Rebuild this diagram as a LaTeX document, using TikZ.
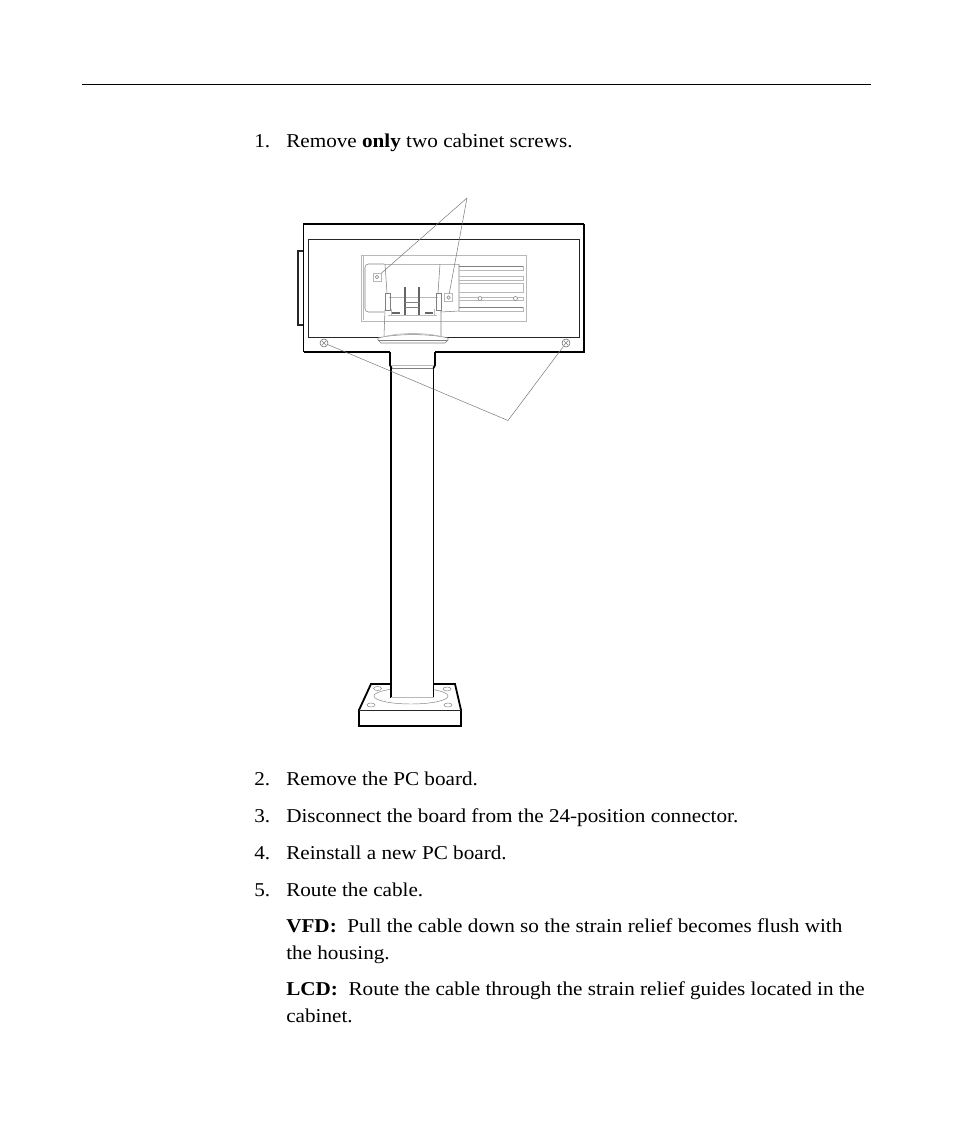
\documentclass[tikz,border=0pt]{standalone}
\usepackage{fontspec}
\setmainfont{Liberation Serif}[FakeStretch=1.08]
\tikzset{
  x=0.75pt,y=-0.75pt,
  txt/.style={anchor=base west,inner sep=0pt,font=\fontsize{14.7pt}{16pt}\selectfont},
  heavy/.style={draw=black,line width=1.35pt},
  med/.style={draw=black!85,line width=0.6pt},
  fine/.style={draw=black!50,line width=0.4pt},
  pale/.style={draw=black!28,line width=0.5pt},
  leader/.style={draw=black!55,line width=0.35pt},
  sqscrew/.style={draw=black!28,line width=0.4pt,fill=white,minimum size=6pt,inner sep=0pt,rectangle},
  rdscrew/.style={draw=black!60,line width=0.4pt,fill=white,minimum size=6pt,inner sep=0pt,circle},
  hole/.style={draw=black!50,line width=0.35pt},
}
\begin{document}
\begin{tikzpicture}
\useasboundingbox (0,0) rectangle (954,1145);
\fill[white] (0,0) rectangle (954,1145);
\draw[draw=black,line width=0.6pt] (82,84.5) -- (871,84.5);

% text
\node[txt] (n1) at (254,147) {1.};
\node[txt] (t1) at (286,147) {Remove \textbf{only} two cabinet screws.};
\node[txt] (n2) at (254,785) {2.};
\node[txt] (t2) at (286,785) {Remove the PC board.};
\node[txt] (n3) at (254,822) {3.};
\node[txt] (t3) at (286,822) {Disconnect the board from the 24-position connector.};
\node[txt] (n4) at (254,859) {4.};
\node[txt] (t4) at (286,859) {Reinstall a new PC board.};
\node[txt] (n5) at (254,896) {5.};
\node[txt] (t5) at (286,896) {Route the cable.};
\node[txt] (v1) at (286,932) {\textbf{VFD:}\ \ Pull the cable down so the strain relief becomes flush with};
\node[txt] (v2) at (286,959) {the housing.};
\node[txt] (l1) at (286,995) {\textbf{LCD:}\ \ Route the cable through the strain relief guides located in the};
\node[txt] (l2) at (286,1022) {cabinet.};

% cabinet
\draw[med,line width=0.9pt] (303.5,251) -- (298,251) -- (298,325) -- (303.5,325);
\fill[white] (303.5,224) rectangle (584,352);
\draw[draw=black,line width=1pt] (303.5,352) -- (303.5,224) -- (584,224);
\draw[heavy] (584,224) -- (584,352) -- (303.5,352);
\draw[med] (308.5,239) rectangle (579,337);

% display panel
\draw[pale,fill=white] (361,255) rectangle (526,321);
\draw[pale] (363,256) -- (363,320);
\draw[fine,rounded corners=1pt] (384,264) -- (367,264) -- (365,266) -- (365,310) -- (367,312) -- (384,312);
\draw[pale] (384,264) -- (440,264);
\draw[pale] (440,264) -- (459,264);
\draw[fine] (459,264) -- (459,311) -- (441,312);
\draw[fine] (459,266) -- (523,266);
\draw[pale] (523,266) -- (523,270) -- (459,270);
\draw[pale] (459,276) -- (523,276) -- (523,280) -- (459,280);
\draw[pale] (459,283) -- (523,283) -- (523,292) -- (459,292);
\draw[pale] (459,297) -- (523,297) -- (523,300) -- (459,300);
\draw[fine] (459,307) -- (523,307);
\draw[pale] (523,307) -- (523,311) -- (459,311);
\node[circle,fine,inner sep=0pt,minimum size=3pt,fill=white] (h1) at (480,298.5) {};
\node[circle,fine,inner sep=0pt,minimum size=3pt,fill=white] (h2) at (515.5,298.5) {};

% bracket
\draw[fine] (385,264) -- (387,293) (385,310) -- (384,336);
\draw[fine] (440,264) -- (438,293) (441,310) -- (441,336);
\draw[pale] (389,297) -- (438,297);
\draw[draw=black!60,line width=0.8pt] (405,287) -- (405,315) (419,287) -- (419,315);
\draw[fine] (405,302) -- (419,302) (405,307) -- (419,307);
\draw[fine] (385,293) -- (385,310) -- (390,310) -- (390,293) -- cycle;
\draw[fine] (436,293) -- (436,310) -- (441,310) -- (441,293) -- cycle;
\draw[pale] (388,315) -- (437,315);
\fill[black!60] (392,311.5) rectangle (400,314);
\fill[black!60] (425,311.5) rectangle (433,314);
\draw[pale] (391,309) -- (391,315) (434,309) -- (434,315);

% pole and collar
\draw[heavy] (391,367) -- (391,698) (433.5,367) -- (433.5,698);
\fill[white] (390,351) rectangle (435,367);
\draw[heavy] (390,352) -- (390,365) -- (391.5,368);
\draw[heavy] (435,352) -- (435,365) -- (433.5,368);
\draw[pale] (391,365) -- (434,365);
\draw[fine] (392,368.5) -- (433,368.5);

% flange
\draw[fine,fill=white] (378,338) .. controls (395,333.5) and (431,333.5) .. (448,338) -- (448,340) -- (445,343) -- (381,343) -- (378,340) -- cycle;
\draw[fine] (378,340) -- (448,340);
\draw[pale] (385,336.5) .. controls (400,332.5) and (426,332.5) .. (441,336.5);

% base
\draw[heavy,fill=white] (371,684) -- (455,684) -- (461,710) -- (461,726) -- (359,726) -- (359,710) -- cycle;
\draw[med] (359,710) -- (461,710);
\draw[hole] (411,696) ellipse (37 and 8);
\draw[hole] (377.5,688.5) ellipse (4 and 2);
\draw[hole] (447,689) ellipse (4 and 2);
\draw[hole] (371,705) ellipse (4 and 2);
\draw[hole] (448,705) ellipse (4 and 2);
\fill[white] (391,682.5) rectangle (433.5,697.5);
\draw[heavy] (391,660) -- (391,697.5);
\draw[heavy] (433.5,660) -- (433.5,697.5);
\draw[pale] (391,697.5) -- (433.5,697.5);

% screws
\node[sqscrew] (s1) at (377,277) {};
\node[circle,fine,inner sep=0pt,minimum size=2.5pt] at (s1) {};
\node[sqscrew] (s2) at (448.5,297.5) {};
\node[circle,fine,inner sep=0pt,minimum size=2.5pt] at (s2) {};
\node[rdscrew] (s3) at (324,343) {};
\node[rdscrew] (s4) at (566,343) {};
\draw[hole] (321.8,340.8) -- (326.2,345.2) (321.8,345.2) -- (326.2,340.8);
\draw[hole] (563.8,340.8) -- (568.2,345.2) (563.8,345.2) -- (568.2,340.8);

% leaders
\coordinate (a1) at (467,198);
\coordinate (a2) at (508,420.5);
\draw[leader] (a1) -- (s1);
\draw[leader] (a1) -- (s2);
\draw[leader] (a2) -- (s3);
\draw[leader] (a2) -- (s4);
\end{tikzpicture}
\end{document}
